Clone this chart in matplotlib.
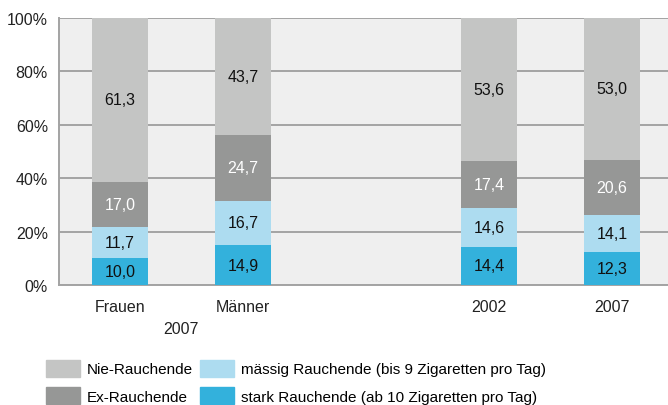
import numpy as np
import matplotlib.pyplot as plt
from matplotlib.patches import Patch

plt.rcParams['font.family'] = ['Liberation Sans', 'DejaVu Sans']

# data
groups = ['Frauen', 'Männer', '2002', '2007']
positions = [0, 1, 3, 4]
stark = [10.0, 14.9, 14.4, 12.3]
maessig = [11.7, 16.7, 14.6, 14.1]
ex = [17.0, 24.7, 17.4, 20.6]
nie = [61.3, 43.7, 53.6, 53.0]

series = [
    ('stark Rauchende (ab 10 Zigaretten pro Tag)', stark, '#33b1dc', '#111111'),
    ('mässig Rauchende (bis 9 Zigaretten pro Tag)', maessig, '#addcf0', '#111111'),
    ('Ex-Rauchende', ex, '#969796', 'white'),
    ('Nie-Rauchende', nie, '#c4c5c4', '#111111'),
]

fig = plt.figure(figsize=(6.68, 4.06), dpi=100)
ax = fig.add_axes([59/668, 120/406, 609/668, 267/406])
ax.set_facecolor('#efefef')

bottom = np.zeros(len(groups))
handles = {}
for name, vals, col, tcol in series:
    bars = ax.bar(positions, vals, width=0.455, bottom=bottom, color=col, zorder=3)
    for b, v, y0 in zip(bars, vals, bottom):
        ax.text(b.get_x() + b.get_width()/2, y0 + v/2, f'{v:.1f}'.replace('.', ','),
                ha='center', va='center', fontsize=11.5, color=tcol, zorder=4)
    bottom += np.array(vals)
    handles[name] = Patch(color=col)

ax.set_xlim(-0.496, 4.455)
ax.set_ylim(0, 100)
ax.set_yticks([0, 20, 40, 60, 80, 100])
ax.set_yticklabels([f'{t}%' for t in [0, 20, 40, 60, 80, 100]])
ax.set_xticks(positions)
ax.set_xticklabels(groups)
ax.tick_params(length=0, labelsize=11.5, colors='#222222')
ax.tick_params(axis='y', pad=8)
ax.tick_params(axis='x', pad=10)
ax.yaxis.grid(True, color='#a3a3a3', linewidth=1.4, zorder=1)
for s in ['top', 'right']:
    ax.spines[s].set_visible(False)
for s in ['left', 'bottom']:
    ax.spines[s].set_color('#a3a3a3')
    ax.spines[s].set_linewidth(1.4)

fig.text(181/668, 1 - 330/406, '2007', ha='center', va='center', fontsize=11.5, color='#222222')

leg_kw = dict(loc='upper left', frameon=False, fontsize=11, handlelength=2.2,
              handleheight=1.3, handletextpad=0.5, labelspacing=0.7,
              borderpad=0, borderaxespad=0)
l1 = ['Nie-Rauchende', 'Ex-Rauchende']
l2 = ['mässig Rauchende (bis 9 Zigaretten pro Tag)', 'stark Rauchende (ab 10 Zigaretten pro Tag)']
fig.legend([handles[n] for n in l1], l1, bbox_to_anchor=(46/668, 1 - 361/406), **leg_kw)
fig.legend([handles[n] for n in l2], l2, bbox_to_anchor=(200/668, 1 - 361/406), **leg_kw)

fig.savefig('out.png', dpi=100)
